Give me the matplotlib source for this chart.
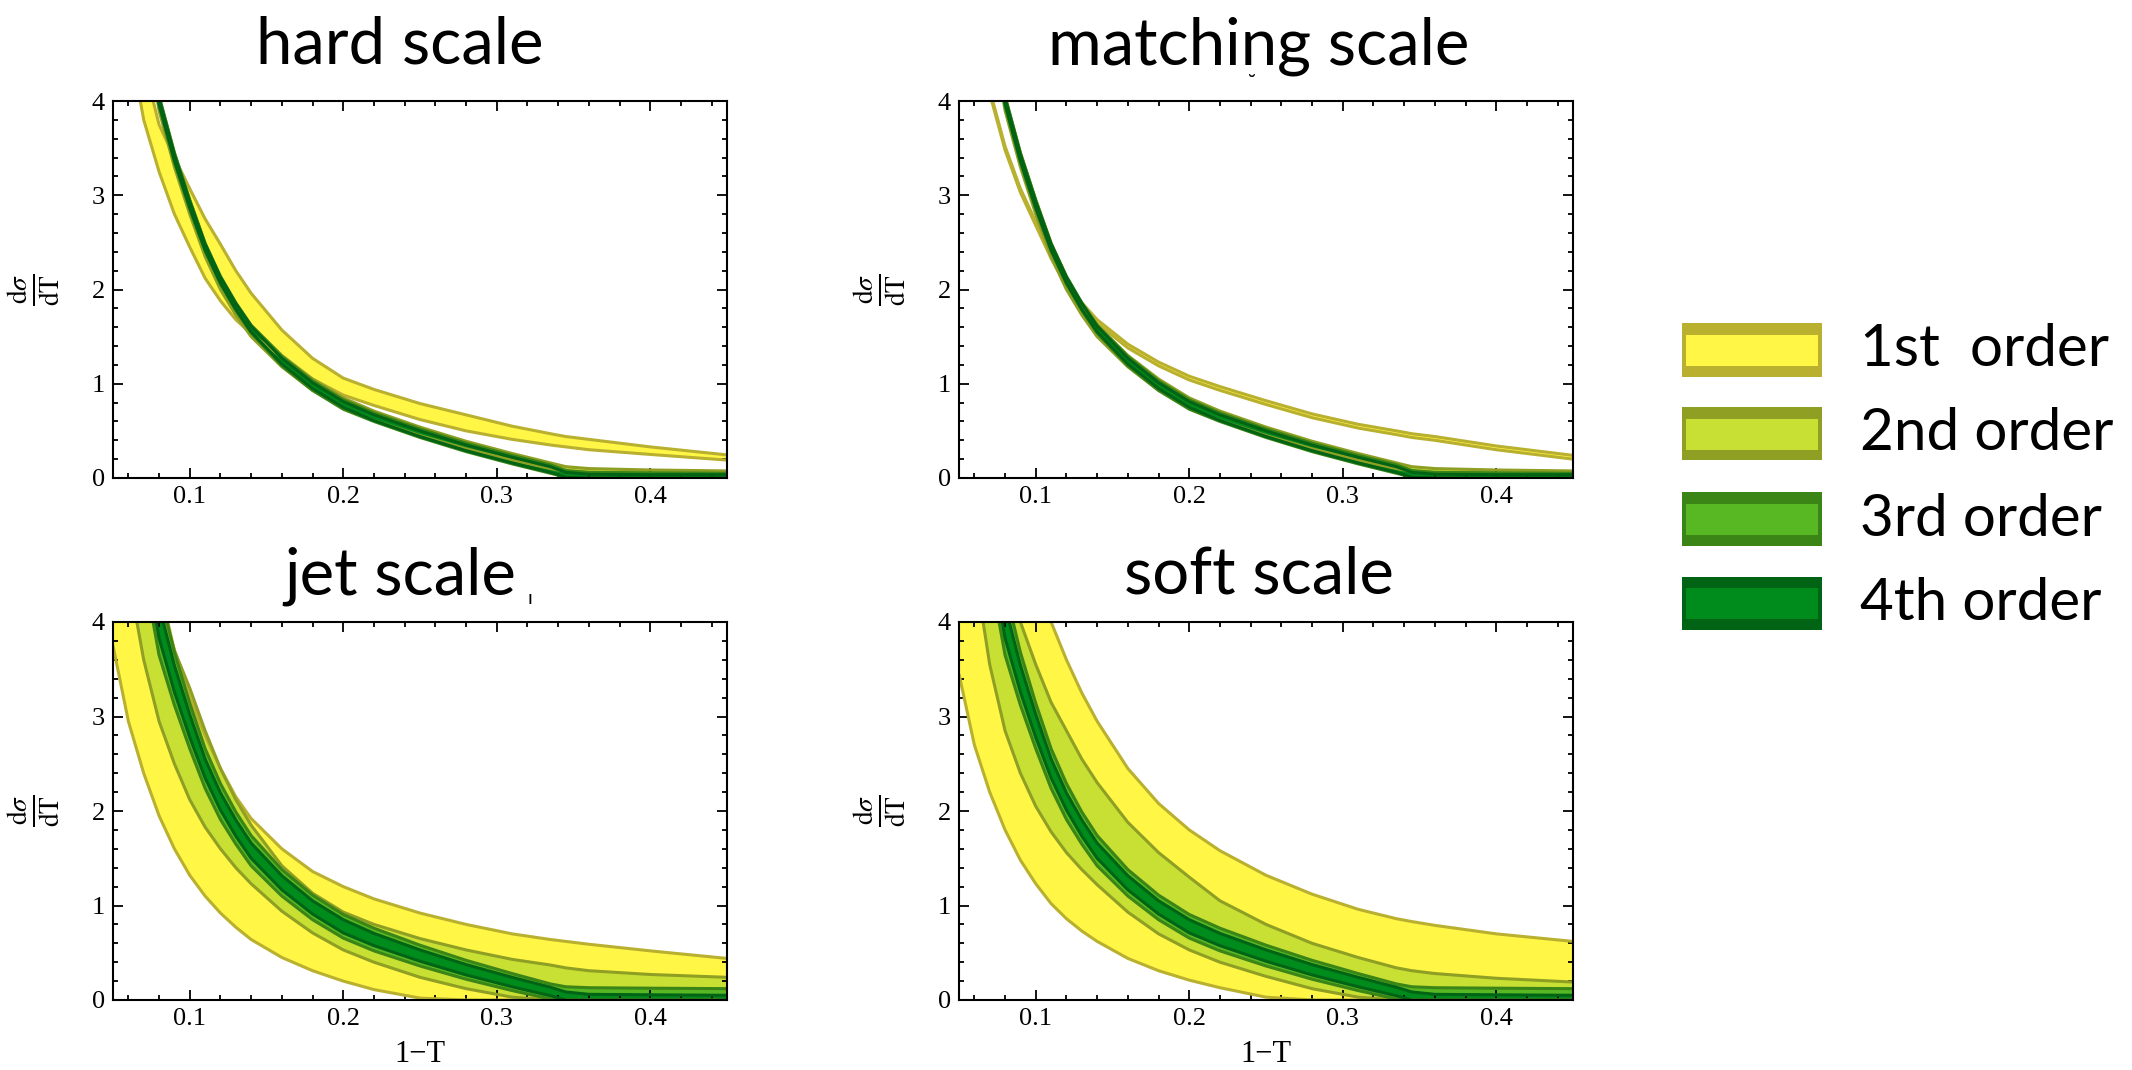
import numpy as np
import matplotlib
matplotlib.use('Agg')
import matplotlib.pyplot as plt
from matplotlib.patches import Rectangle
from matplotlib.ticker import MultipleLocator

plt.rcParams['font.family'] = ['Liberation Serif', 'DejaVu Serif']
plt.rcParams['mathtext.fontset'] = 'stix'

x = [0.05, 0.06, 0.07, 0.08, 0.09, 0.10, 0.11, 0.12, 0.13, 0.14, 0.16,
     0.18, 0.20, 0.22, 0.25, 0.28, 0.31, 0.335, 0.345, 0.36, 0.40, 0.45]

# hard scale: yellow band
hard_lo1 = [6.0, 4.7, 3.8, 3.25, 2.8, 2.45, 2.12, 1.88, 1.68, 1.53, 1.28,
            1.05, 0.88, 0.77, 0.62, 0.5, 0.41, 0.35, 0.33, 0.3, 0.25, 0.19]
hard_hi1 = [7.0, 5.4, 4.4, 3.75, 3.4, 3.07, 2.75, 2.48, 2.2, 1.96, 1.57,
            1.27, 1.06, 0.94, 0.79, 0.67, 0.55, 0.47, 0.44, 0.41, 0.33, 0.245]

# matching scale: yellow band (almost a single line)
match_lo1 = [6.78, 5.28, 4.08, 3.48, 3.03, 2.68, 2.33, 2.03, 1.82, 1.64, 1.38,
             1.19, 1.04, 0.93, 0.78, 0.64, 0.53, 0.46, 0.43, 0.40, 0.30, 0.2]
match_hi1 = [6.82, 5.32, 4.12, 3.52, 3.07, 2.72, 2.37, 2.07, 1.86, 1.68, 1.42,
             1.23, 1.08, 0.97, 0.82, 0.68, 0.57, 0.50, 0.47, 0.44, 0.34, 0.24]

# hard + matching: the narrow 2nd/3rd/4th order bands
narrow_lo2 = [8.9, 6.5, 4.9, 3.9, 3.3, 2.8, 2.35, 2.0, 1.73, 1.5, 1.18,
              0.93, 0.74, 0.61, 0.45, 0.31, 0.19, 0.1, 0.07, 0.06, 0.05, 0.045]
narrow_hi2 = [9.05, 6.65, 5.05, 4.05, 3.45, 2.95, 2.49, 2.13, 1.85, 1.62, 1.3,
              1.05, 0.85, 0.71, 0.54, 0.39, 0.26, 0.16, 0.12, 0.1, 0.085, 0.075]
narrow_lo3 = [8.95, 6.55, 4.95, 3.95, 3.35, 2.85, 2.41, 2.06, 1.78, 1.54, 1.19,
              0.93, 0.73, 0.6, 0.43, 0.28, 0.15, 0.05, 0.01, 0.0, 0.0, 0.0]
narrow_hi3 = [9.05, 6.65, 5.05, 4.05, 3.45, 2.95, 2.49, 2.14, 1.86, 1.62, 1.29,
              1.03, 0.83, 0.69, 0.52, 0.37, 0.24, 0.14, 0.08, 0.06, 0.055, 0.05]
narrow_lo4 = [8.97, 6.57, 4.97, 3.97, 3.37, 2.87, 2.42, 2.07, 1.79, 1.55, 1.21,
              0.95, 0.75, 0.61, 0.44, 0.29, 0.16, 0.06, 0.01, 0.0, 0.0, 0.0]
narrow_hi4 = [9.03, 6.63, 5.03, 4.03, 3.43, 2.93, 2.48, 2.13, 1.85, 1.61, 1.27,
              1.01, 0.81, 0.67, 0.50, 0.35, 0.22, 0.12, 0.06, 0.04, 0.035, 0.035]

# jet scale
jet_lo1 = [3.75, 2.95, 2.4, 1.95, 1.6, 1.32, 1.1, 0.92, 0.77, 0.64, 0.45,
           0.31, 0.2, 0.11, 0.02, 0.0, 0.0, 0.0, 0.0, 0.0, 0.0, 0.0]
jet_hi1 = [8.0, 6.5, 5.3, 4.4, 3.7, 3.2, 2.8, 2.45, 2.15, 1.92, 1.6,
           1.36, 1.2, 1.07, 0.92, 0.8, 0.7, 0.64, 0.62, 0.59, 0.52, 0.44]
jet_lo2 = [6.0, 4.5, 3.6, 2.95, 2.5, 2.12, 1.83, 1.6, 1.4, 1.23, 0.94,
           0.71, 0.53, 0.4, 0.24, 0.12, 0.03, 0.0, 0.0, 0.0, 0.0, 0.0]
jet_hi2 = [8.5, 6.6, 5.2, 4.25, 3.7, 3.3, 2.85, 2.45, 2.12, 1.85, 1.42,
           1.13, 0.93, 0.8, 0.65, 0.53, 0.43, 0.37, 0.34, 0.31, 0.27, 0.24]

# soft scale
soft_lo1 = [3.45, 2.7, 2.2, 1.8, 1.48, 1.23, 1.02, 0.86, 0.73, 0.62, 0.44,
            0.31, 0.21, 0.13, 0.03, 0.0, 0.0, 0.0, 0.0, 0.0, 0.0, 0.0]
soft_hi1 = [12.0, 9.5, 7.8, 6.4, 5.3, 4.55, 4.0, 3.6, 3.25, 2.95, 2.45,
            2.08, 1.8, 1.58, 1.32, 1.12, 0.96, 0.86, 0.83, 0.79, 0.7, 0.62]
soft_lo2 = [6.2, 4.6, 3.55, 2.85, 2.4, 2.05, 1.78, 1.56, 1.38, 1.22, 0.93,
            0.7, 0.53, 0.4, 0.25, 0.12, 0.03, 0.0, 0.0, 0.0, 0.0, 0.0]
soft_hi2 = [7.5, 6.2, 5.2, 4.6, 4.0, 3.55, 3.15, 2.85, 2.55, 2.3, 1.88,
            1.56, 1.3, 1.05, 0.8, 0.6, 0.45, 0.34, 0.31, 0.28, 0.23, 0.19]

# jet + soft: 3rd and 4th order core
core_lo3 = [8.2, 6.0, 4.55, 3.65, 3.12, 2.66, 2.24, 1.91, 1.65, 1.42, 1.1,
            0.85, 0.655, 0.52, 0.36, 0.22, 0.1, 0.01, 0.0, 0.0, 0.0, 0.0]
core_hi3 = [9.8, 7.2, 5.45, 4.35, 3.68, 3.14, 2.66, 2.29, 1.99, 1.74, 1.38,
            1.11, 0.905, 0.76, 0.58, 0.42, 0.28, 0.17, 0.14, 0.13, 0.125, 0.12]
core_lo4 = [8.6, 6.3, 4.78, 3.83, 3.26, 2.78, 2.35, 2.01, 1.735, 1.5, 1.165,
            0.91, 0.71, 0.575, 0.41, 0.265, 0.14, 0.045, 0.0, 0.0, 0.0, 0.0]
core_hi4 = [9.4, 6.9, 5.22, 4.17, 3.54, 3.02, 2.55, 2.19, 1.905, 1.66, 1.315,
            1.05, 0.85, 0.705, 0.53, 0.375, 0.24, 0.135, 0.085, 0.06, 0.055, 0.05]

titles = ['hard scale', 'matching scale', 'jet scale', 'soft scale']
labels = ['1st  order', '2nd order', '3rd order', '4th order']
fill_colors = ['#fff645', '#c8e034', '#58b824', '#008b1d']
edge_colors = ['#b9b030', '#8e9f24', '#3b8416', '#006414']

panels = [
    [(hard_lo1, hard_hi1), (narrow_lo2, narrow_hi2), (narrow_lo3, narrow_hi3), (narrow_lo4, narrow_hi4)],
    [(match_lo1, match_hi1), (narrow_lo2, narrow_hi2), (narrow_lo3, narrow_hi3), (narrow_lo4, narrow_hi4)],
    [(jet_lo1, jet_hi1), (jet_lo2, jet_hi2), (core_lo3, core_hi3), (core_lo4, core_hi4)],
    [(soft_lo1, soft_hi1), (soft_lo2, soft_hi2), (core_lo3, core_hi3), (core_lo4, core_hi4)],
]

W, H = 2132, 1070
fig = plt.figure(figsize=(W / 100, H / 100), dpi=100)

# axes boxes in pixels: left, top, right, bottom
boxes = [(113, 101, 727, 478), (959, 101, 1573, 478),
         (113, 622, 727, 1000), (959, 622, 1573, 1000)]
title_pos = [(400, 64), (1259, 64), (400, 594), (1259, 594)]

for i, (l, t, r, b) in enumerate(boxes):
    ax = fig.add_axes([l / W, 1 - b / H, (r - l) / W, (b - t) / H])
    for k, (lo, hi) in enumerate(panels[i]):
        ax.fill_between(x, lo, hi, color=fill_colors[k], lw=0)
        ax.plot(x, lo, color=edge_colors[k], lw=2.2, solid_capstyle='butt')
        ax.plot(x, hi, color=edge_colors[k], lw=2.2, solid_capstyle='butt')
    ax.set_xlim(0.05, 0.45)
    ax.set_ylim(0, 4)
    ax.set_xticks([0.1, 0.2, 0.3, 0.4])
    ax.set_xticklabels(['0.1', '0.2', '0.3', '0.4'])
    ax.set_yticks([0, 1, 2, 3, 4])
    ax.xaxis.set_minor_locator(MultipleLocator(0.02))
    ax.yaxis.set_minor_locator(MultipleLocator(0.2))
    ax.tick_params(which='both', direction='in', top=True, right=True, width=1.3)
    ax.tick_params(which='major', length=7, labelsize=19, pad=6)
    ax.tick_params(which='minor', length=3.5)
    for s in ax.spines.values():
        s.set_linewidth(1.5)

    cy = 1 - (t + b) / 2 / H
    fig.text((l - 79) / W, cy, r'$\frac{\mathrm{d}\sigma}{\mathrm{dT}}$',
             rotation=90, ha='center', va='center', fontsize=28)
    if i >= 2:
        fig.text((l + r) / 2 / W, 1 - 1054 / H, '1\u2212T', ha='center', va='center', fontsize=22)

    tx, ty = title_pos[i]
    fig.text(tx / W, 1 - ty / H, titles[i], ha='center', va='baseline',
             fontsize=47, family=['Lato', 'DejaVu Sans'])

# small stray marks next to two titles
fig.text(530 / W, 1 - 604 / H, '\u0131', ha='center', va='baseline', fontsize=14,
         family=['Lato', 'DejaVu Sans'])
fig.text(1252 / W, 1 - 90 / H, '\u02d8', ha='center', va='baseline', fontsize=14,
         family=['DejaVu Sans'])

# legend drawn by hand
row_y = [350, 434, 519, 603]
for k in range(4):
    yc = row_y[k]
    fig.patches.append(Rectangle((1682 / W, 1 - (yc + 26.5) / H), 140 / W, 53 / H,
                                 transform=fig.transFigure, color=edge_colors[k], lw=0))
    fig.patches.append(Rectangle((1686 / W, 1 - (yc + 15.5) / H), 132 / W, 31 / H,
                                 transform=fig.transFigure, color=fill_colors[k], lw=0))
    fig.text(1860 / W, 1 - yc / H, labels[k], ha='left', va='center', fontsize=42,
             family=['Lato', 'DejaVu Sans'])

fig.savefig('out.png', dpi=100, facecolor='white')
